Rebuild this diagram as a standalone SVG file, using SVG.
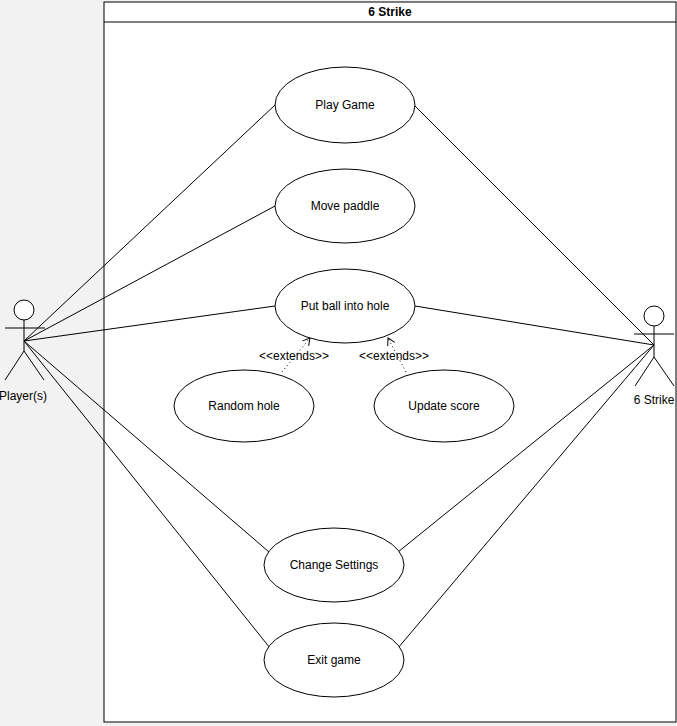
<svg xmlns="http://www.w3.org/2000/svg" width="677" height="726" viewBox="0 0 677 726">
<style>
text{font-family:"Liberation Sans",Arial,sans-serif;font-size:12px;fill:#000;text-anchor:middle}
.s{fill:none;stroke:#000;stroke-width:1}
.u{fill:#fff;stroke:#000;stroke-width:1}
.d{fill:none;stroke:#000;stroke-dasharray:1 3}
</style>
<defs><marker id="a" markerWidth="10" markerHeight="10" refX="8" refY="5" orient="auto" markerUnits="userSpaceOnUse"><path d="M1,1 L8,5 L1,9" class="s"/></marker></defs>
<rect width="677" height="726" fill="#f2f2f2"/>
<g id="system"><rect x="104" y="2" width="572" height="720" class="u"/><line x1="104" y1="22" x2="676" y2="22" class="s"/><text x="390" y="16" font-weight="bold">6 Strike</text></g>
<g id="connectors">
<line x1="24" y1="341" x2="275" y2="105" class="s"/>
<line x1="24" y1="341" x2="275" y2="206" class="s"/>
<line x1="24" y1="341" x2="275" y2="306" class="s"/>
<line x1="24" y1="341" x2="269" y2="552" class="s"/>
<line x1="24" y1="341" x2="270" y2="648" class="s"/>
<line x1="654" y1="345" x2="414" y2="105" class="s"/>
<line x1="654" y1="345" x2="415" y2="306" class="s"/>
<line x1="654" y1="345" x2="398" y2="552" class="s"/>
<line x1="654" y1="345" x2="398" y2="648" class="s"/>
<line x1="282" y1="372" x2="310" y2="338" class="d" marker-end="url(#a)"/>
<line x1="406" y1="372" x2="388" y2="338" class="d" marker-end="url(#a)"/>
</g>
<g id="uc1"><ellipse cx="345" cy="105" rx="70" ry="38" class="u"/><text x="345" y="109">Play Game</text></g>
<g id="uc2"><ellipse cx="345" cy="206" rx="70" ry="37" class="u"/><text x="345" y="210">Move paddle</text></g>
<g id="uc3"><ellipse cx="345" cy="306" rx="70" ry="37" class="u"/><text x="345" y="310">Put ball into hole</text></g>
<g id="uc4"><ellipse cx="244" cy="406" rx="70" ry="36" class="u"/><text x="244" y="410">Random hole</text></g>
<g id="uc5"><ellipse cx="444" cy="406" rx="70" ry="36" class="u"/><text x="444" y="410">Update score</text></g>
<g id="uc6"><ellipse cx="334" cy="565" rx="70" ry="37" class="u"/><text x="334" y="569">Change Settings</text></g>
<g id="uc7"><ellipse cx="334" cy="660" rx="70" ry="37" class="u"/><text x="334" y="664">Exit game</text></g>
<g id="ext1"><text x="294" y="360" font-size="10">&lt;&lt;extends&gt;&gt;</text></g>
<g id="ext2"><text x="394" y="360" font-size="10">&lt;&lt;extends&gt;&gt;</text></g>
<g id="actor1"><circle cx="24" cy="310" r="10" class="u"/><path d="M24,320V351M5,328H45M24,351L5,380M24,351L44,380" class="s"/><text x="23" y="400">Player(s)</text></g>
<g id="actor2"><circle cx="654" cy="316" r="10" class="u"/><path d="M654,326V357M634,334H674M654,357L635,386M654,357L674,386" class="s"/><text x="654" y="404">6 Strike</text></g>
</svg>
